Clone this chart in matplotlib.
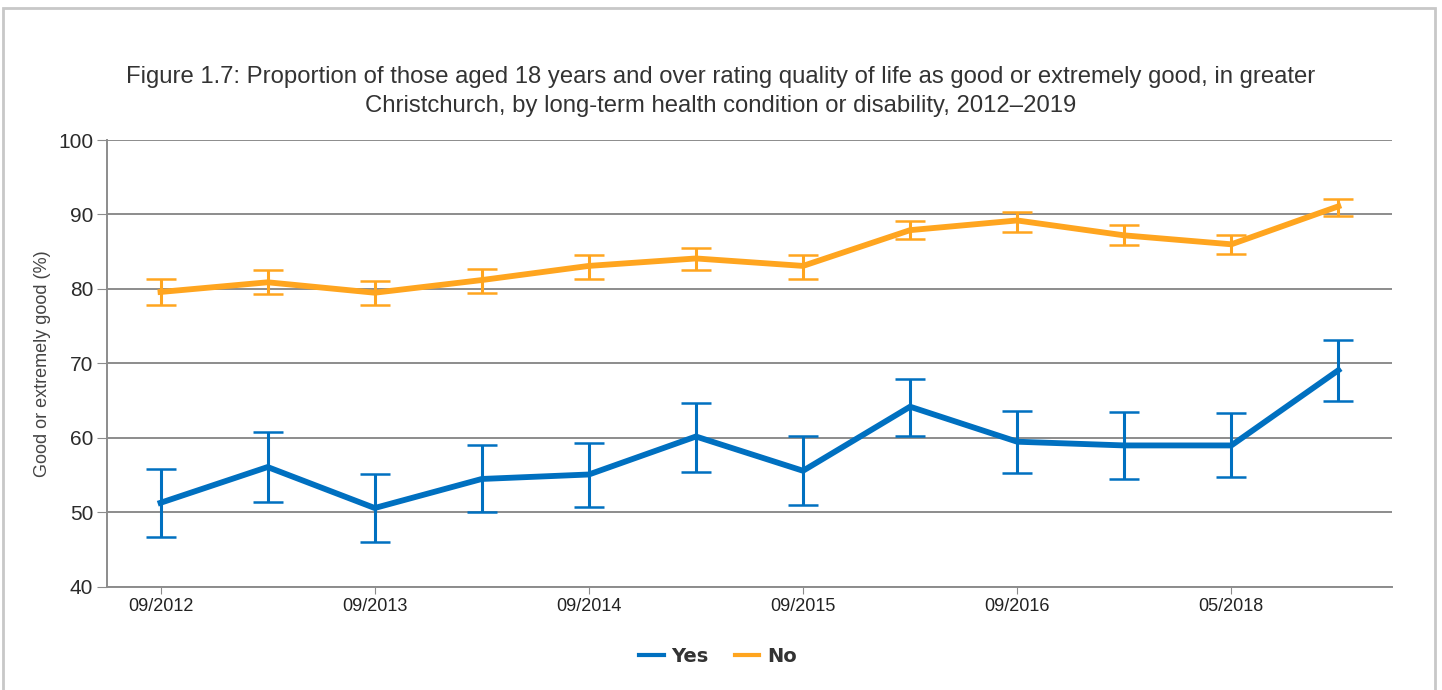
import matplotlib
matplotlib.use('Agg')
import matplotlib.pyplot as plt
import matplotlib.patches as mpatches
import numpy as np

plt.rcParams['font.family'] = ['Liberation Sans', 'DejaVu Sans']

# 12 survey waves, only every other one labelled on the axis
tick_labels = ['09/2012', '', '09/2013', '', '09/2014', '', '09/2015', '', '09/2016', '', '05/2018', '']

yes_values = [51.3, 56.1, 50.6, 54.5, 55.1, 60.2, 55.6, 64.2, 59.5, 59.0, 59.0, 69.1]
yes_upper = [55.8, 60.8, 55.2, 59.1, 59.3, 64.7, 60.2, 67.9, 63.6, 63.5, 63.3, 73.2]
yes_lower = [46.7, 51.4, 46.0, 50.1, 50.7, 55.5, 51.0, 60.3, 55.3, 54.5, 54.7, 65.0]

no_values = [79.6, 80.9, 79.5, 81.2, 83.1, 84.1, 83.1, 87.9, 89.2, 87.2, 86.0, 91.1]
no_upper = [81.3, 82.6, 81.1, 82.7, 84.5, 85.5, 84.5, 89.1, 90.3, 88.6, 87.3, 92.1]
no_lower = [77.9, 79.3, 77.9, 79.5, 81.4, 82.6, 81.3, 86.7, 87.7, 85.9, 84.7, 89.8]

blue = '#0070c0'
blue_cap = '#4d9bd6'
orange = '#ffa51f'
orange_cap = '#ffc15e'
grid_col = '#8c8c8c'

fig = plt.figure(figsize=(14.42, 6.9), dpi=100)
ax = fig.add_axes([0.0742, 0.1493, 0.8911, 0.6478])

x = np.arange(len(tick_labels))

def draw_series(values, upper, lower, color, cap_color, label):
    values = np.array(values)
    err = [values - np.array(lower), np.array(upper) - values]
    _, caps, _ = ax.errorbar(x, values, yerr=err, fmt='none', ecolor=color, elinewidth=2.2,
                             capsize=11, capthick=1.8, zorder=3)
    for c in caps:
        c.set_color(cap_color)
    ax.plot(x, values, color=color, linewidth=4.2, label=label, zorder=4,
            solid_joinstyle='miter')

draw_series(yes_values, yes_upper, yes_lower, blue, blue_cap, 'Yes')
draw_series(no_values, no_upper, no_lower, orange, orange_cap, 'No')

ax.set_xlim(-0.5, len(tick_labels) - 0.5)
ax.set_ylim(40, 100)
ax.set_yticks(range(40, 101, 10))
ax.tick_params(axis='y', labelsize=15, colors='#2b2b2b', length=7, color=grid_col, pad=3)
ax.set_xticks(x[::2])
ax.set_xticklabels(tick_labels[::2])
ax.tick_params(axis='x', labelsize=13, colors='#222222', length=5, color=grid_col, pad=3)
ax.yaxis.grid(True, color=grid_col, linewidth=1.4)
ax.set_axisbelow(True)

for side in ['top', 'right']:
    ax.spines[side].set_visible(False)
for side in ['left', 'bottom']:
    ax.spines[side].set_color(grid_col)
    ax.spines[side].set_linewidth(1.4)

ax.set_ylabel('Good or extremely good (%)', fontsize=13, color='#444444', labelpad=5)

fig.text(0.5, 0.867, 'Figure 1.7: Proportion of those aged 18 years and over rating quality of life as good or extremely good, in greater\n'
         'Christchurch, by long-term health condition or disability, 2012\u20132019',
         ha='center', va='center', fontsize=17.2, color='#333333', linespacing=1.4)

leg = fig.legend(loc='center', bbox_to_anchor=(0.498, 0.049), ncol=2, frameon=False,
                 prop={'family': 'DejaVu Sans', 'weight': 'bold', 'size': 14},
                 handlelength=1.25, columnspacing=1.35, handletextpad=0.4)
for line in leg.get_lines():
    line.set_linewidth(3)
for t in leg.get_texts():
    t.set_color('#333333')

# light grey frame around the chart
fig.patches.append(mpatches.Rectangle((0.002, -0.01), 0.993, 0.998, transform=fig.transFigure,
                                      fill=False, edgecolor='#c8c8c8', linewidth=2))

fig.savefig('out.png', dpi=100)
